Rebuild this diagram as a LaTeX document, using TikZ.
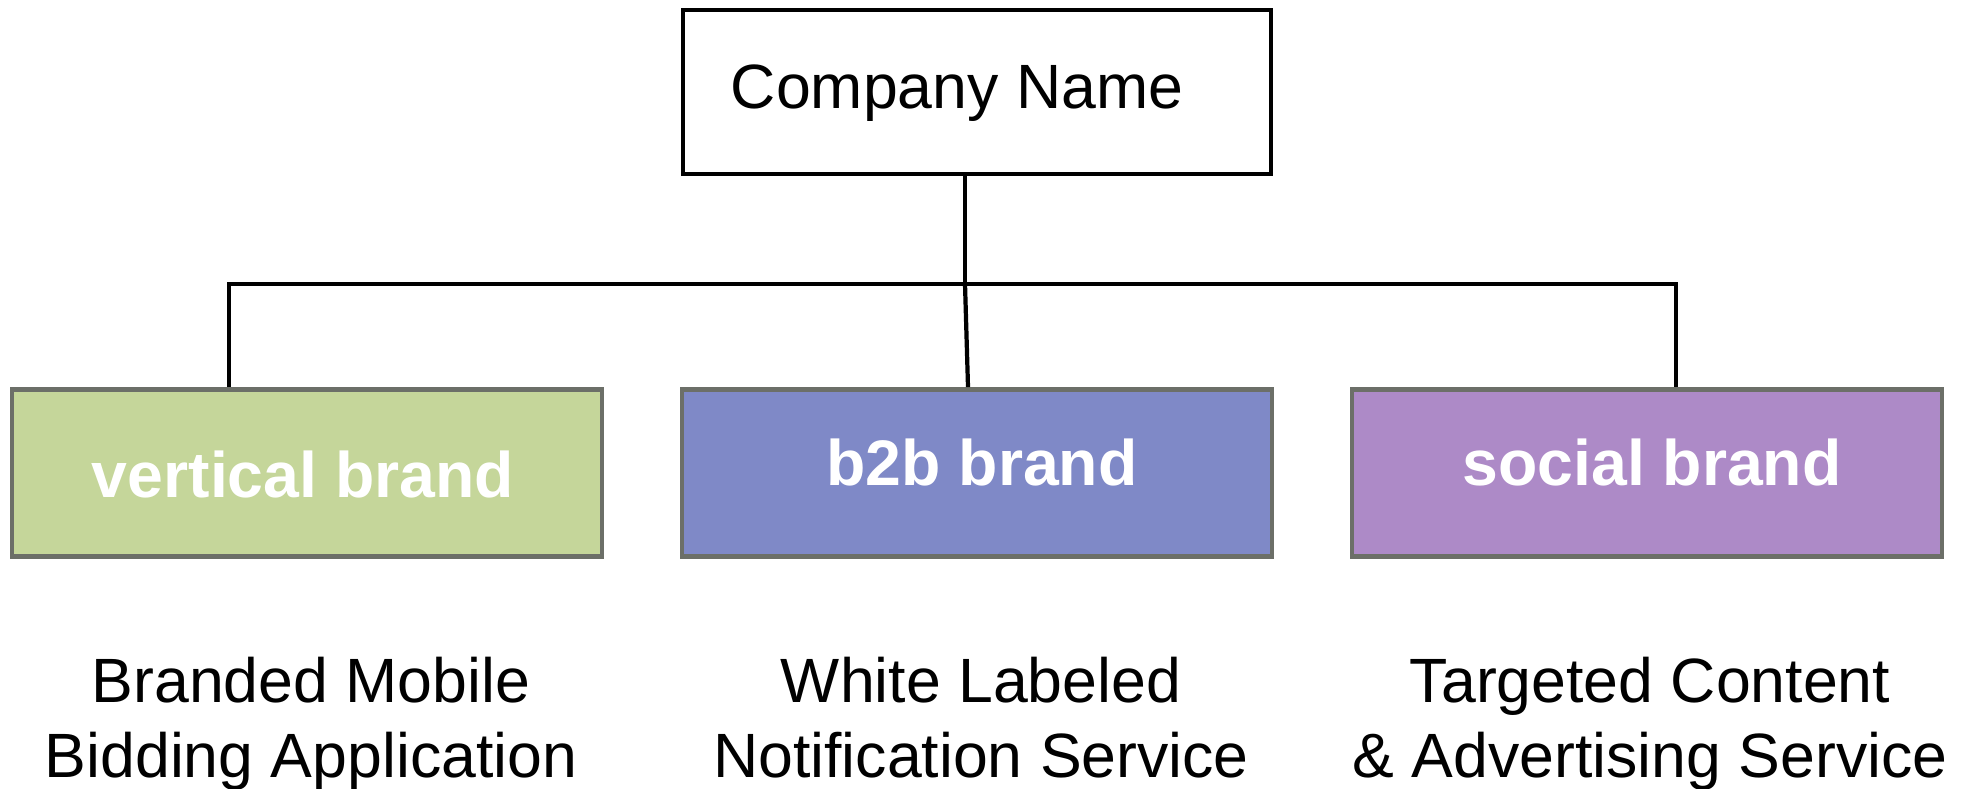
\documentclass[tikz,border=0pt]{standalone}
\usepackage{fontspec}
\setmainfont{Liberation Sans}
\definecolor{vgreen}{HTML}{C5D69A}
\definecolor{vblue}{HTML}{7F89C7}
\definecolor{vpurple}{HTML}{AD8AC7}
\definecolor{boxgray}{HTML}{6C6F68}
\begin{document}
\begin{tikzpicture}[x=0.01cm,y=-0.01cm,
  brandbox/.style={draw=boxgray, line width=1.3pt, minimum width=5.9cm, minimum height=1.67cm, inner sep=0pt},
  conn/.style={line width=1.2pt, draw=black},
  lbl/.style={font=\fontsize{17.8}{21.3}\selectfont, align=center, inner sep=0pt, anchor=base},
  blbl/.style={font=\bfseries\fontsize{18.3}{22}\selectfont, text=white, inner sep=0pt, anchor=base}]
\useasboundingbox (0,0) rectangle (1961,788);
% top box
\node[draw, line width=1.25pt, minimum width=5.88cm, minimum height=1.64cm, inner sep=0pt] (top) at (977,92) {};
\node[lbl] (topt) at (957,109) {Company Name};
% brand boxes
\node[brandbox, fill=vgreen] (g) at (307,473) {};
\node[brandbox, fill=vblue] (b) at (977,473) {};
\node[brandbox, fill=vpurple] (p) at (1647,473) {};
\node[blbl] (gt) at (303,497) {vertical brand};
\node[blbl] (bt) at (982,485) {b2b brand};
\node[blbl] (pt) at (1652,485) {social brand};
% connectors
\coordinate (j) at (965,284);
\coordinate (jl) at (229,284);
\coordinate (jr) at (1676,284);
\coordinate (jb) at (968,0);
\draw[conn] (j |- top.south) -- (j);
\draw[conn] (jl |- g.north) -- (jl) -- (jr) -- (jr |- p.north);
\draw[conn] (j) -- (jb |- b.north);
% descriptions
\node[lbl] (gd) at (311,777) {Branded Mobile\\Bidding Application};
\node[lbl] (bd) at (981,777) {White Labeled\\Notification Service};
\node[lbl] (pd) at (1650,777) {Targeted Content\\\& Advertising Service};
\end{tikzpicture}
\end{document}
